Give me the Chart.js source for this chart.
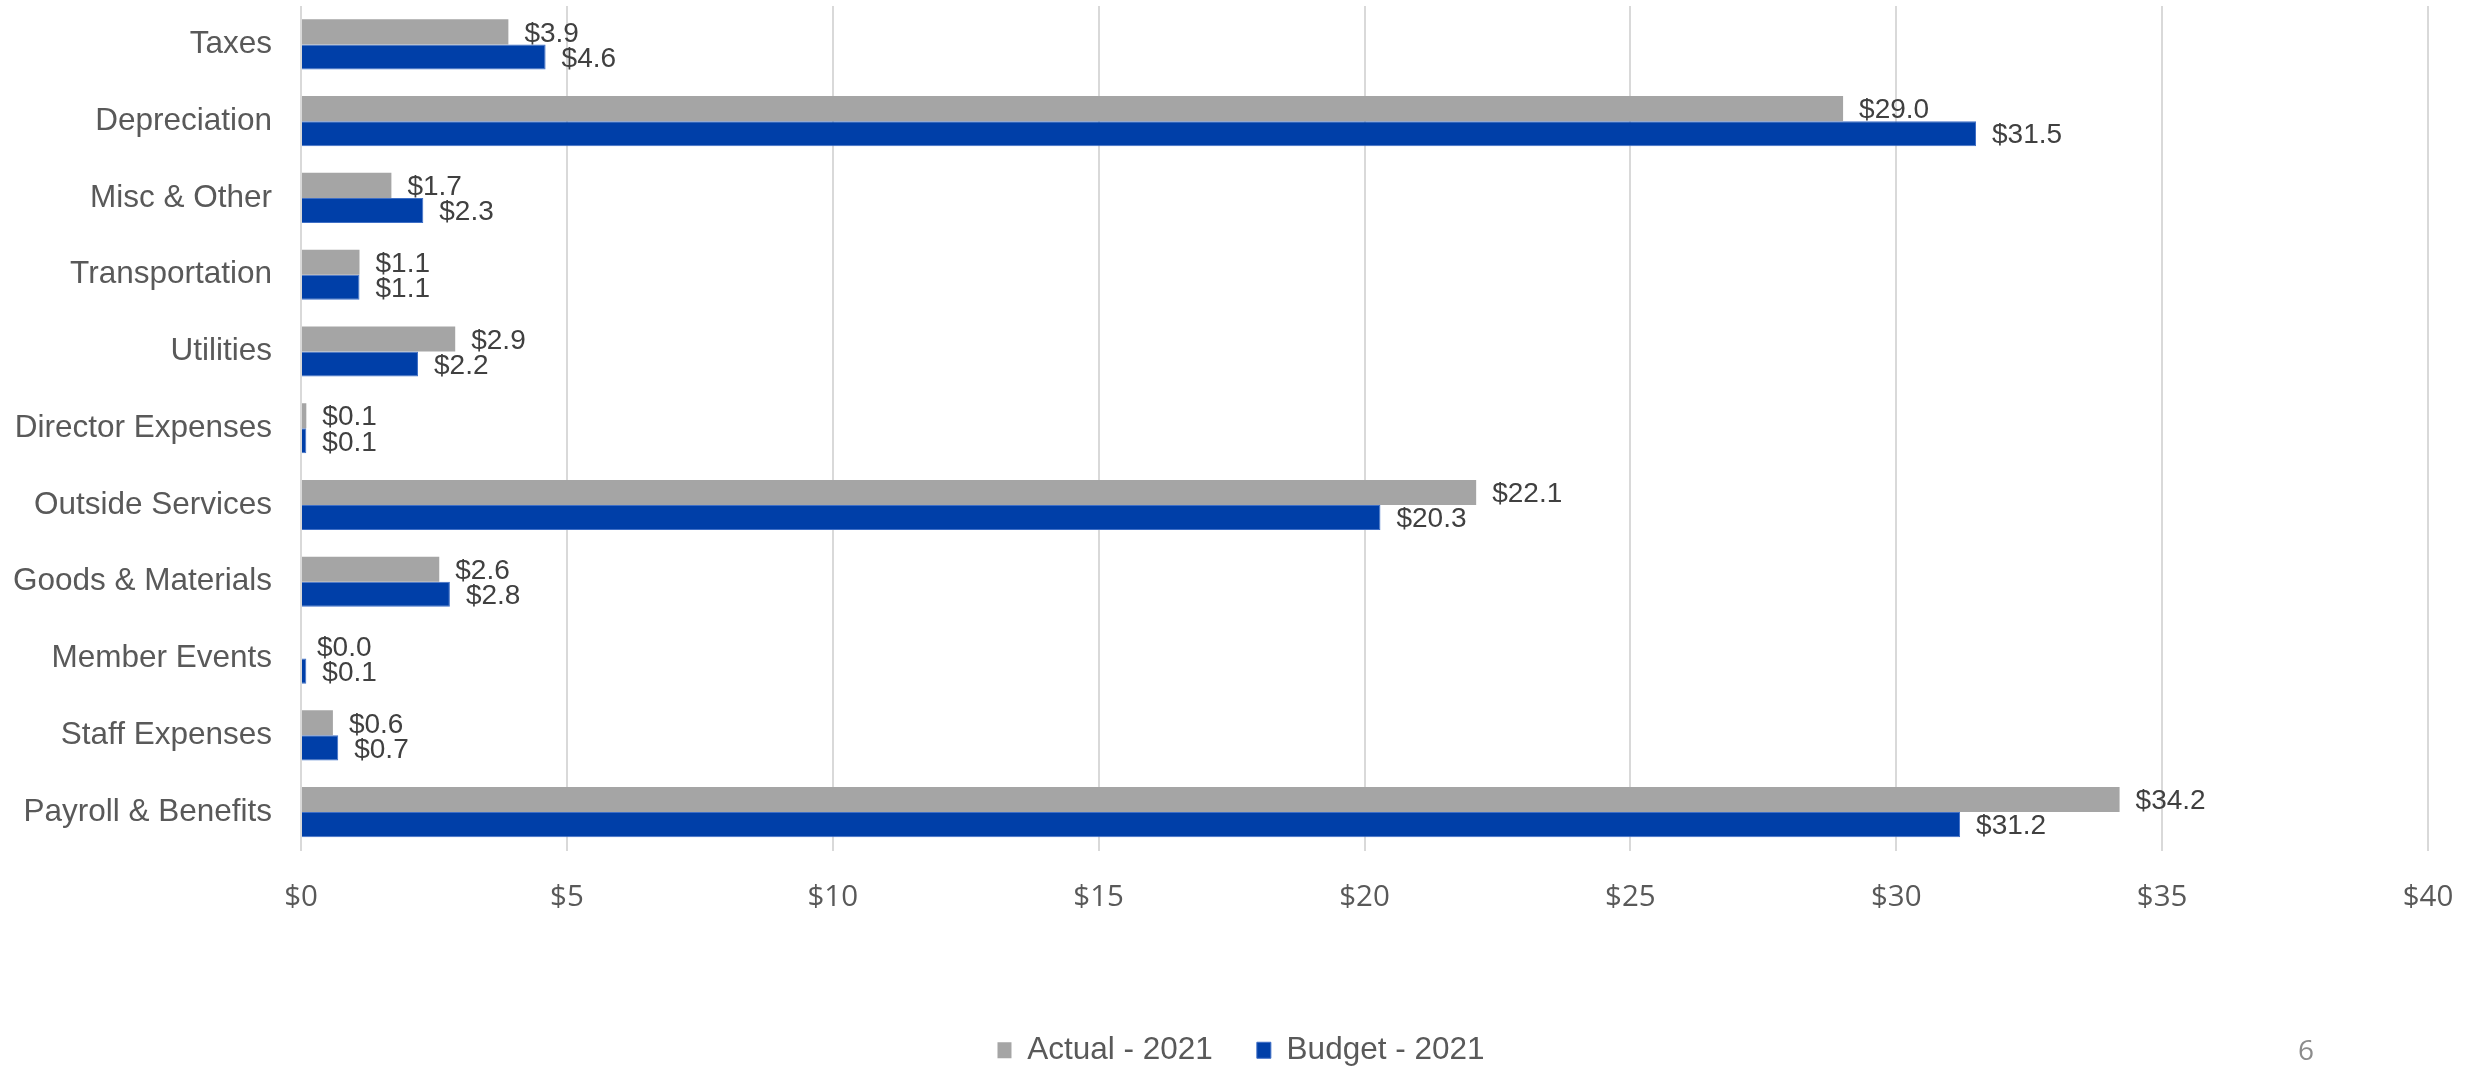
<!DOCTYPE html>
<html>
<head>
<meta charset="utf-8">
<script src="https://cdn.jsdelivr.net/npm/chart.js@4/dist/chart.umd.min.js"></script>
<style>
  html, body { margin: 0; padding: 0; background: #ffffff; }
  #wrap { position: relative; width: 2474px; height: 1068px; }
  #pg { position: absolute; left: 2298px; top: 1030px; font-family: 'Open Sans', sans-serif; font-size: 28px; color: #8c8c8c; }
</style>
</head>
<body>
<div id="wrap">
  <canvas id="c" width="2474" height="1068"></canvas>
  <div id="pg">6</div>
</div>
<script>
const categories = ['Taxes', 'Depreciation', 'Misc & Other', 'Transportation', 'Utilities', 'Director Expenses', 'Outside Services', 'Goods & Materials', 'Member Events', 'Staff Expenses', 'Payroll & Benefits'];
const actual2021 = [3.9, 29.0, 1.7, 1.1, 2.9, 0.1, 22.1, 2.6, 0.0, 0.6, 34.2];
const budget2021 = [4.6, 31.5, 2.3, 1.1, 2.2, 0.1, 20.3, 2.8, 0.1, 0.7, 31.2];
const seriesNames = ['Actual - 2021', 'Budget - 2021'];
const xTickMin = 0, xTickMax = 40, xTickStep = 5;

const SANS = "'Liberation Sans', Arial, sans-serif";

const valueLabels = {
  id: 'valueLabels',
  afterLayout(chart) {
    if (chart.legend) { chart.legend.left += 54; }
  },
  afterDatasetsDraw(chart) {
    const ctx = chart.ctx;
    ctx.save();
    ctx.font = "28px " + SANS;
    ctx.fillStyle = '#404040';
    ctx.textAlign = 'left';
    ctx.textBaseline = 'middle';
    chart.data.datasets.forEach((ds, di) => {
      const meta = chart.getDatasetMeta(di);
      meta.data.forEach((bar, i) => {
        const v = ds.data[i];
        ctx.fillText('$' + v.toFixed(1), bar.x + 16, bar.y + 2);
      });
    });
    ctx.restore();
  }
};

new Chart(document.getElementById('c'), {
  type: 'bar',
  data: {
    labels: categories,
    datasets: [
      { label: seriesNames[0], data: actual2021, backgroundColor: '#a5a5a5', borderWidth: 0 },
      { label: seriesNames[1], data: budget2021, backgroundColor: '#003fa8', borderColor: '#3f6fc6', borderWidth: 1 }
    ]
  },
  options: {
    indexAxis: 'y',
    responsive: false,
    devicePixelRatio: 1,
    animation: false,
    layout: { padding: { top: 6, left: 0, right: 46, bottom: -8 } },
    datasets: { bar: { categoryPercentage: 0.653, barPercentage: 1.0 } },
    scales: {
      x: {
        min: xTickMin, max: xTickMax,
        border: { display: false },
        grid: { color: '#d9d9d9', lineWidth: 2, drawTicks: true, tickLength: 29, tickColor: 'rgba(0,0,0,0)' },
        ticks: {
          stepSize: xTickStep,
          color: '#595959',
          font: { family: "'Open Sans', sans-serif", size: 29.5 },
          padding: 0,
          callback: v => '$' + v
        },
        afterFit(scale) { scale.height = 140; }
      },
      y: {
        border: { display: false },
        grid: { display: false, drawTicks: true, tickLength: 29 },
        ticks: {
          color: '#595959',
          font: { family: SANS, size: 31.5, lineHeight: 0.3 },
          padding: 0
        },
        afterFit(scale) { scale.width = 301; }
      }
    },
    plugins: {
      legend: {
        position: 'bottom',
        labels: {
          color: '#595959',
          font: { family: SANS, size: 31.5 },
          boxWidth: 14,
          boxHeight: 16,
          padding: 44
        }
      },
      tooltip: { enabled: false }
    }
  },
  plugins: [valueLabels]
});
</script>
</body>
</html>
